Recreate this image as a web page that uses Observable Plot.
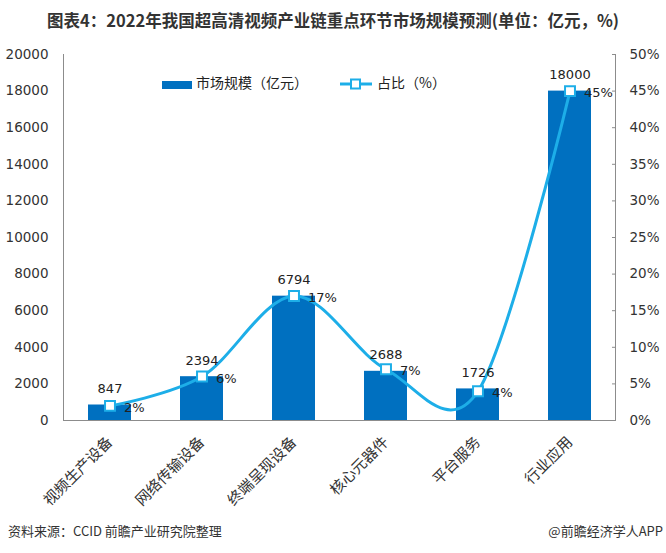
<!DOCTYPE html>
<html><head><meta charset="utf-8">
<script src="https://cdn.jsdelivr.net/npm/d3@7"></script>
<script src="https://cdn.jsdelivr.net/npm/@observablehq/plot@0.6"></script>
<style>
body{margin:0;background:#fff;}
#wrap{position:relative;width:666px;height:553px;overflow:hidden;font-family:"Noto Sans CJK SC",sans-serif;color:#333;}
#title{height:40px;line-height:40px;text-align:center;font-size:16.5px;font-weight:bold;color:#333;white-space:nowrap;}
#chart{height:475px;}
#chart svg{display:block;}
#caption{position:absolute;left:8px;top:521px;font-size:13px;color:#333;}
#brand{position:absolute;right:3px;top:521px;font-size:13px;color:#333;}
.lg{position:absolute;font-size:14px;color:#222;line-height:16px;}
</style>
</head><body>
<div id="wrap">
  <div id="title">图表4：2022年我国超高清视频产业链重点环节市场规模预测(单位：亿元，%)</div>
  <div id="chart"></div>
  <div id="legend"></div>
  <div id="caption">资料来源：CCID 前瞻产业研究院整理</div>
  <div id="brand">@前瞻经济学人APP</div>
</div>
<script>
const categories = ["视频生产设备","网络传输设备","终端呈现设备","核心元器件","平台服务","行业应用"];
const marketSize = [847, 2394, 6794, 2688, 1726, 18000];
const sharePct = [2, 6, 17, 7, 4, 45];
const leftTicks = [0, 2000, 4000, 6000, 8000, 10000, 12000, 14000, 16000, 18000, 20000];
const rightTickLabels = ["0%","5%","10%","15%","20%","25%","30%","35%","40%","45%","50%"];
const seriesNames = ["市场规模（亿元）", "占比（%）"];

const barColor = "#0070C0";
const lineColor = "#1DAEE8";
const axisColor = "#8c8c8c";
const pctToY = p => p / 50 * 20000;

const data = categories.map((c, i) => ({cat: c, value: marketSize[i], pct: sharePct[i]}));

const chart = Plot.plot({
  width: 666, height: 475,
  marginTop: 14, marginBottom: 95, marginLeft: 63, marginRight: 51,
  style: {fontFamily: "DejaVu Sans", fontSize: "13px", color: "#333", background: "transparent"},
  x: {domain: categories, paddingInner: 0.535, paddingOuter: 0.2675, label: null},
  y: {domain: [0, 20000], label: null},
  marks: [
    Plot.barY(data, {x: "cat", y: "value", fill: barColor}),
    Plot.frame({anchor: "left", stroke: axisColor}),
    Plot.frame({anchor: "right", stroke: axisColor}),
    Plot.frame({anchor: "bottom", stroke: axisColor}),
    Plot.axisY(leftTicks, {anchor: "left", tickSize: 0, tickPadding: 15, fontSize: 13.5, fill: "#333", label: null,
      tickFormat: d => String(d)}),
    Plot.axisY(leftTicks, {anchor: "right", tickSize: -4, tickPadding: 18, stroke: axisColor, fill: "#333", fontSize: 13.5,
      tickFormat: d => rightTickLabels[leftTicks.indexOf(d)], label: null}),
    Plot.axisX({tickRotate: -45, tickSize: 0, tickPadding: 19, fontSize: 15, fontFamily: "Noto Sans CJK SC", fill: "#333", label: null}),
    Plot.lineY(data, {x: "cat", y: d => pctToY(d.pct), stroke: lineColor, strokeWidth: 3, curve: "cardinal"}),
    Plot.dot(data, {x: "cat", y: d => pctToY(d.pct), symbol: "square", r: 5.6, fill: "white", stroke: lineColor, strokeWidth: 2}),
    Plot.text(data, {x: "cat", y: "value", text: d => String(d.value), dy: -16, fontSize: 13, fill: "#222"}),
    Plot.text(data, {x: "cat", y: d => pctToY(d.pct), text: d => d.pct + "%", dx: 14, dy: 2, textAnchor: "start", fontSize: 13, fill: "#222"})
  ]
});
document.getElementById("chart").appendChild(chart);

// legend (inside plot area, top)
const lg = document.getElementById("legend");
lg.innerHTML = `
  <div style="position:absolute;left:162px;top:81px;width:30px;height:8px;background:${barColor}"></div>
  <div class="lg" style="left:196px;top:74px">${seriesNames[0]}</div>
  <svg style="position:absolute;left:338px;top:76px" width="36" height="16">
    <line x1="2" y1="8" x2="34" y2="8" stroke="${lineColor}" stroke-width="3"/>
    <rect x="13" y="3.5" width="9" height="9" fill="white" stroke="${lineColor}" stroke-width="2"/>
  </svg>
  <div class="lg" style="left:377px;top:74px">${seriesNames[1]}</div>`;
</script>
</body></html>
